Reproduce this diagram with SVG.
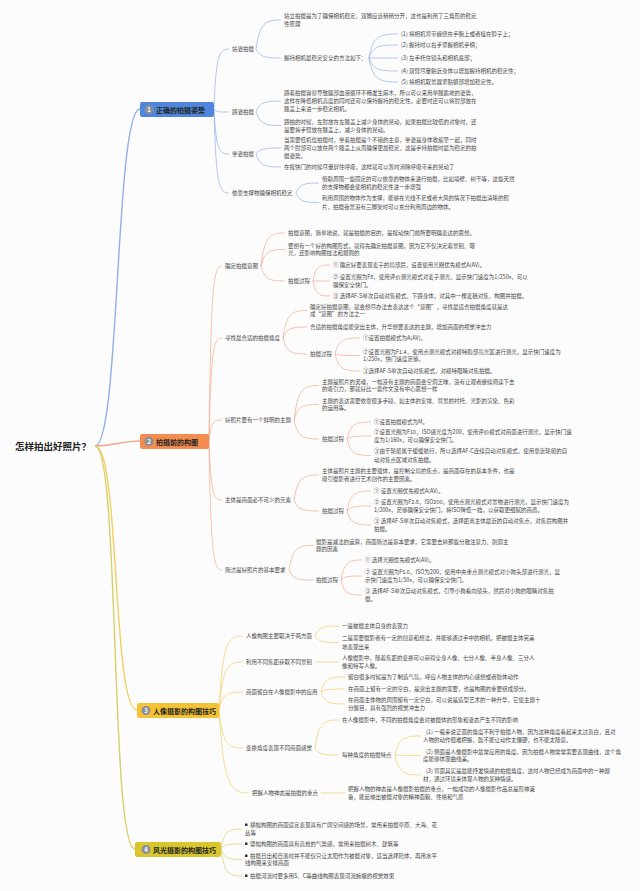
<svg xmlns="http://www.w3.org/2000/svg" width="640" height="891" viewBox="0 0 640 891">
<style>
text{font-family:"Noto Sans CJK SC","Noto Sans",sans-serif;dominant-baseline:central;fill:#454545}
.t{font-size:5.5px}
.root{font-size:9.5px;font-weight:bold;fill:#222}
.bl{font-size:7px;font-weight:bold;fill:#222}
.num{font-size:6px;fill:#fff;text-anchor:middle;font-weight:bold}
.c{fill:none;stroke-width:0.7}
.m{fill:none;stroke-width:1.4}
.s1{stroke:#8fb0e6}.s2{stroke:#f2a98e}.s3{stroke:#f1cf63}.s4{stroke:#d8cf6c}
</style>
<rect width="640" height="891" fill="#fcfcfc"/>
<g id="connectors">
<path class="m s1" d="M95 446C120 446 115 109 140 109"/>
<path class="m s2" d="M95 446C115 446 120 441 140 441"/>
<path class="m s3" d="M95 446C120 446 112 710 137 710"/>
<path class="m s4" d="M95 446C120 446 110 849 135 849"/>
<g class="c s1">
<path d="M214 109C216 55 219 49 229 49"/><path d="M214 109C216 112 219 112 229 112"/><path d="M214 109C216 150 219 154 229 154"/><path d="M214 109C216 185 219 193 229 193"/>
<path d="M256 49C260 23 265 20 281 20"/><path d="M256 49C260 57 265 58 281 58"/>
<path d="M369 58C373 36 379 34 398 34"/><path d="M369 58C373 46 379 45 398 45"/><path d="M369 58L398 58"/><path d="M369 58C373 70 379 71 398 71"/><path d="M369 58C373 80 379 82 398 82"/>
<path d="M256 112C260 102 265 101 281 101"/><path d="M256 112C260 124 265 125.5 281 125.5"/>
<path d="M256 154C260 148.6 265 148 281 148"/><path d="M256 154C260 166 265 167 281 167"/>
<path d="M296 193C299.5 184 304 183 319 183"/><path d="M296 193C299.5 201.6 304 202.5 319 202.5"/>
</g>
<g class="c s2">
<path d="M209 441C211 283.5 213.5 266 222 266"/><path d="M209 441C211 348 213.5 338 222 338"/><path d="M209 441C211 422 213.5 420 222 420"/><path d="M209 441C211 494 213.5 500 222 500"/><path d="M209 441C211 557 213.5 570 222 570"/>
<path d="M261 266C264.6 236.3 269.4 233 285 233"/><path d="M261 266C264.6 251.2 269.4 249.5 285 249.5"/><path d="M261 266C264.6 279.5 269.4 281 285 281"/>
<path d="M313 281C315.5 266.6 319 265 330 265"/><path d="M313 281L330 281"/><path d="M313 281C315.5 294.5 319 296 330 296"/>
<path d="M283 338C286.6 313.3 291.4 310.5 307 310.5"/><path d="M283 338C286.6 328.1 291.4 327 307 327"/><path d="M283 338C286.6 352.4 291.4 354 307 354"/>
<path d="M335 354C338.8 339.6 343.8 338 360 338"/><path d="M335 354C338.8 355.4 343.8 355.5 360 355.5"/><path d="M335 354C338.8 369.3 343.8 371 360 371"/>
<path d="M294 420C297.8 389 302.8 385.5 319 385.5"/><path d="M294 420C297.8 406 302.8 404.5 319 404.5"/><path d="M294 420C297.8 437.1 302.8 439 319 439"/>
<path d="M347 439C350.6 423.7 355.4 422 371 422"/><path d="M347 439C350.6 436.3 355.4 436 371 436"/><path d="M347 439C350.6 453.9 355.4 455.5 371 455.5"/>
<path d="M294 500C297.8 477.5 302.8 475 319 475"/><path d="M294 500C297.8 509.9 302.8 511 319 511"/>
<path d="M347 511C350.6 493 355.4 491 371 491"/><path d="M347 511C350.6 506.5 355.4 506 371 506"/><path d="M347 511C350.6 523.6 355.4 525 371 525"/>
<path d="M289 570C292.6 548 297.4 545.5 313 545.5"/><path d="M289 570C292.6 579 297.4 580 313 580"/>
<path d="M341 580C344.2 562 348.4 560 362 560"/><path d="M341 580C344.2 576.4 348.4 576 362 576"/><path d="M341 580C344.2 593.5 348.4 595 362 595"/>
</g>
<g class="c s3">
<path d="M219 710C222.6 643.4 227.4 636 243 636"/><path d="M219 710C222.6 666.8 227.4 662 243 662"/><path d="M219 710C222.6 693.8 227.4 692 243 692"/><path d="M219 710C222.6 744.2 227.4 748 243 748"/><path d="M219 710C223.5 784.7 230 793 249 793"/>
<path d="M315 636C318.6 627 323.4 626 339 626"/><path d="M315 636C318.6 641.9 323.4 642.5 339 642.5"/>
<path d="M315 662L339 662"/>
<path d="M321 692C324.6 678.5 329.4 677 345 677"/><path d="M321 692C324.6 689.3 329.4 689 345 689"/><path d="M321 692C324.6 702.8 329.4 704 345 704"/>
<path d="M315 748C318.6 722.8 323.4 720 339 720"/><path d="M315 748C318.6 754.3 323.4 755 339 755"/>
<path d="M395 755C398.9 737.9 404.1 736 421 736"/><path d="M395 755C398.9 755.5 404.1 755.5 421 755.5"/><path d="M395 755C398.9 773 404.1 775 421 775"/>
<path d="M321 793L345 793"/>
</g>
<g class="c s4">
<path d="M221 849C224.2 831 228.4 829 242 829"/><path d="M221 849C224.2 844.5 228.4 844 242 844"/><path d="M221 849C224.2 858.5 228.4 859.5 242 859.5"/><path d="M221 849C224.2 873.3 228.4 876 242 876"/>
</g>
</g>
<g id="root"><text class="root" x="15" y="446">怎样拍出好照片？</text></g>
<g id="b1"><rect x="140" y="102" width="74" height="15" rx="2" fill="#4f86dc"/><circle cx="149" cy="109.5" r="4.5" fill="#8a8f99"/><text class="num" x="149" y="109.5">1</text><text class="bl" x="156" y="109.5">正确的拍摄姿势</text></g>
<g id="b2"><rect x="140" y="434" width="69" height="15" rx="2" fill="#f28c50"/><circle cx="149" cy="441.5" r="4.5" fill="#8a8f99"/><text class="num" x="149" y="441.5">2</text><text class="bl" x="156" y="441.5">拍摄前的构图</text></g>
<g id="b3"><rect x="137" y="703" width="82" height="15" rx="2" fill="#f3c235"/><circle cx="146" cy="710.5" r="4.5" fill="#8a8f99"/><text class="num" x="146" y="710.5">3</text><text class="bl" x="153" y="710.5">人像摄影的构图技巧</text></g>
<g id="b4"><rect x="135" y="842" width="86" height="15" rx="2" fill="#d8c62c"/><circle cx="146" cy="849.5" r="4.5" fill="#8a8f99"/><text class="num" x="146" y="849.5">4</text><text class="bl" x="153" y="849.5">风光摄影的构图技巧</text></g>

<g id="n1-1"><text class="t" x="232" y="49">站姿拍摄</text></g>
<g id="n1-1a"><text class="t"><tspan x="284" y="16">站立拍摄是为了确保相机稳定，双脚应该稍稍分开，这也是利用了三角形的稳定</tspan><tspan x="284" y="24">性原理</tspan></text></g>
<g id="n1-1b"><text class="t" x="284" y="58">握持相机最稳定安全的方法如下：</text></g>
<g id="n1-1b1"><text class="t" x="401" y="34">(1)  将相机背带缠绕在手腕上或者挂在脖子上；</text></g>
<g id="n1-1b2"><text class="t" x="401" y="45">(2)  握持时以右手紧握相机手柄；</text></g>
<g id="n1-1b3"><text class="t" x="401" y="58">(3)  左手托住镜头和相机底部；</text></g>
<g id="n1-1b4"><text class="t" x="401" y="71">(4)  双臂尽量贴近身体以增加握持相机的稳定性；</text></g>
<g id="n1-1b5"><text class="t" x="401" y="82">(5)  将相机取景器紧贴额部增加稳定性。</text></g>
<g id="n1-2"><text class="t" x="232" y="112">蹲姿拍摄</text></g>
<g id="n1-2a"><text class="t"><tspan x="284" y="93">蹲着拍摄容易导致腿部血液循环不畅发生麻木，所以可以采用单膝跪地的姿势，</tspan><tspan x="284" y="101">这样在降低相机高度的同时还可以保持握持的稳定性。必要时还可以将肘部放在</tspan><tspan x="284" y="109">膝盖上来进一步稳定相机。</tspan></text></g>
<g id="n1-2b"><text class="t"><tspan x="284" y="122">蹲拍的时候，左肘放在左膝盖上减少身体的晃动，如果拍摄比较低的对象时，还</tspan><tspan x="284" y="129.5">是要将手臂放在膝盖上，减少身体的晃动。</tspan></text></g>
<g id="n1-3"><text class="t" x="232" y="154">坐姿拍摄</text></g>
<g id="n1-3a"><text class="t"><tspan x="284" y="140">当需要低机位拍摄时，坐着拍摄是个不错的主意，坐姿是身体收缩至一起，同时</tspan><tspan x="284" y="148">两个肘部可以放在两个膝盖上从而确保更加稳定，这是手持拍摄时最为稳定的拍</tspan><tspan x="284" y="156">摄姿势。</tspan></text></g>
<g id="n1-3b"><text class="t" x="284" y="167">在按快门的时候尽量屏住呼吸，这样就可以暂时消除呼吸带来的晃动了</text></g>
<g id="n1-4"><text class="t" x="232" y="193">依靠支撑物确保相机稳定</text></g>
<g id="n1-4a"><text class="t"><tspan x="322" y="179">借助周围一些固定的可以依靠的物体来进行拍摄，比如墙壁、树干等，这些天然</tspan><tspan x="322" y="187">的支撑物都会使相机的稳定性进一步增强</tspan></text></g>
<g id="n1-4b"><text class="t"><tspan x="322" y="198">利用周围的物体作为支撑，能够在光线不足或者大风的情况下拍摄出清晰的照</tspan><tspan x="322" y="207">片，拍摄夜景没有三脚架时可以充分利用周边的物体。</tspan></text></g>

<g id="n2-1"><text class="t" x="225" y="266">确定拍摄意图</text></g>
<g id="n2-1a"><text class="t" x="288" y="233">拍摄意图，简单地说，就是拍摄的目的，是按动快门前所要明确表达的思想。</text></g>
<g id="n2-1b"><text class="t"><tspan x="288" y="246">要想有一个好的构图形式，就得先确定拍摄意图，因为它不仅决定着景别、曝</tspan><tspan x="288" y="253">光，还影响构图技法和规则的</tspan></text></g>
<g id="n2-1c"><text class="t" x="288" y="281">拍摄过程</text></g>
<g id="n2-1c1"><text class="t" x="333" y="265">① 确定好要表现麦子的局部后，设置使用光圈优先模式A(AV)。</text></g>
<g id="n2-1c2"><text class="t"><tspan x="333" y="277">② 设置光圈为F8，使用评价测光模式对麦子测光，显示快门速度为1/250s，可以</tspan><tspan x="333" y="285">确保安全快门。</tspan></text></g>
<g id="n2-1c3"><text class="t" x="333" y="296">③ 选择AF-S单次自动对焦模式，下蹲身体，对其中一棵麦穗对焦，构图并拍摄。</text></g>
<g id="n2-2"><text class="t" x="225" y="338">寻找最合适的拍摄角度</text></g>
<g id="n2-2a"><text class="t"><tspan x="310" y="307">确定好拍摄意图，就会想尽办法去表达这个“意图”，寻找最适合拍摄角度就是达</tspan><tspan x="310" y="314">成“意图”的方法之一</tspan></text></g>
<g id="n2-2b"><text class="t" x="310" y="327">合适的拍摄角度能突出主体，升华想要表达的主题，增加画面的视觉冲击力</text></g>
<g id="n2-2c"><text class="t" x="310" y="354">拍摄过程</text></g>
<g id="n2-2c1"><text class="t" x="363" y="338">①设置拍摄模式为A(AV)。</text></g>
<g id="n2-2c2"><text class="t"><tspan x="363" y="352">②设置光圈为F1.4，使用点测光模式对模特脸部亮光区进行测光，显示快门速度为</tspan><tspan x="363" y="359">1/250s，快门速度足够。</tspan></text></g>
<g id="n2-2c3"><text class="t" x="363" y="371">③选择AF-S单次自动对焦模式，对模特眼睛对焦拍摄。</text></g>
<g id="n2-3"><text class="t" x="225" y="420">好照片要有一个鲜明的主题</text></g>
<g id="n2-3a"><text class="t"><tspan x="322" y="382">主题是照片的灵魂，一幅没有主题的画面会空洞乏味，没有让观者继续阅读下去</tspan><tspan x="322" y="389">的吸引力，那就好比一篇作文没有中心思想一样</tspan></text></g>
<g id="n2-3b"><text class="t"><tspan x="322" y="401">主题的表达需要依靠很多手段，如主体的安排、背景的衬托、光影的渲染、色彩</tspan><tspan x="322" y="408">的运用等。</tspan></text></g>
<g id="n2-3c"><text class="t" x="322" y="439">拍摄过程</text></g>
<g id="n2-3c1"><text class="t" x="374" y="422">①设置拍摄模式为M。</text></g>
<g id="n2-3c2"><text class="t"><tspan x="374" y="432">②设置光圈为F10，ISO感光度为200，使用评价模式对画面进行测光，显示快门速</tspan><tspan x="374" y="440">度为1/160s，可以确保安全快门。</tspan></text></g>
<g id="n2-3c3"><text class="t"><tspan x="374" y="451">③由于轮船属于缓缓航行，所以选择AF-C连续自动对焦模式，使用靠近轮船的自</tspan><tspan x="374" y="460">动对焦点区域对焦拍摄。</tspan></text></g>
<g id="n2-4"><text class="t" x="225" y="500">主体是画面必不可少的元素</text></g>
<g id="n2-4a"><text class="t"><tspan x="322" y="471">主体是照片主题的主要载体，是控制全局的焦点，是画面存在的基本条件，也是</tspan><tspan x="322" y="479">吸引摄影者进行艺术创作的主要因素。</tspan></text></g>
<g id="n2-4b"><text class="t" x="322" y="511">拍摄过程</text></g>
<g id="n2-4b1"><text class="t" x="374" y="491">① 设置光圈优先模式A(AV)。</text></g>
<g id="n2-4b2"><text class="t"><tspan x="374" y="502">② 设置光圈为F2.8，ISO200，使用点测光模式对景物进行测光，显示快门速度为</tspan><tspan x="374" y="510">1/200s，足够确保安全快门，将ISO降低一挡，以获取更细腻的画质。</tspan></text></g>
<g id="n2-4b3"><text class="t"><tspan x="374" y="521">③ 选择AF-S单次自动对焦模式，选择距离主体最近的自动对焦点，对焦后构图并</tspan><tspan x="374" y="529">拍摄。</tspan></text></g>
<g id="n2-5"><text class="t" x="225" y="570">简洁是好照片的基本要求</text></g>
<g id="n2-5a"><text class="t"><tspan x="316" y="542">摄影是减法的运算，画面简洁是基本要求，它需要去掉那些分散注意力、削弱主</tspan><tspan x="316" y="549">题的因素</tspan></text></g>
<g id="n2-5b"><text class="t" x="316" y="580">拍摄过程</text></g>
<g id="n2-5b1"><text class="t" x="365" y="560">① 选择光圈优先模式A(AV)。</text></g>
<g id="n2-5b2"><text class="t"><tspan x="365" y="572">② 设置光圈为F5.6，ISO为200，使用中央重点测光模式对小狗头部进行测光，显</tspan><tspan x="365" y="580">示快门速度为1/50s，可以确保安全快门。</tspan></text></g>
<g id="n2-5b3"><text class="t"><tspan x="365" y="591">③ 选择AF-S单次自动对焦模式，引导小狗看向镜头，然后对小狗的眼睛对焦拍</tspan><tspan x="365" y="599">摄。</tspan></text></g>

<g id="n3-1"><text class="t" x="246" y="636">人像构图主要取决于两方面</text></g>
<g id="n3-1a"><text class="t" x="342" y="626">一是被摄主体自身的表现力</text></g>
<g id="n3-1b"><text class="t"><tspan x="342" y="638">二是需要摄影者有一定的创意和想法，并能够通过手中的相机，把被摄主体完美</tspan><tspan x="342" y="647">地表现出来</tspan></text></g>
<g id="n3-2"><text class="t" x="246" y="662">利用不同焦距获取不同景别</text></g>
<g id="n3-2a"><text class="t"><tspan x="342" y="658">人像摄影中，随着焦距的变换可以获得全身人像、七分人像、半身人像、三分人</tspan><tspan x="342" y="666">像和特写人像。</tspan></text></g>
<g id="n3-3"><text class="t" x="246" y="692">画面留白在人像摄影中的应用</text></g>
<g id="n3-3a"><text class="t" x="348" y="677">留白很多时候是为了制造气氛，呼应人物主体的内心感想或者肢体动作</text></g>
<g id="n3-3b"><text class="t" x="348" y="689">在画面上留有一定的空白，是突出主题的需要，也是构图的重要组成部分。</text></g>
<g id="n3-3c"><text class="t"><tspan x="348" y="700">在画面主体物的周围留有一定空白，可以说是造型艺术的一种升华，它使主题十</tspan><tspan x="348" y="708">分醒目，具有强烈的视觉冲击力</tspan></text></g>
<g id="n3-4"><text class="t" x="246" y="748">变换角度表现不同画面感觉</text></g>
<g id="n3-4a"><text class="t" x="342" y="720">在人像摄影中，不同的拍摄角度会对被摄体的形象和姿态产生不同的影响</text></g>
<g id="n3-4b"><text class="t" x="342" y="755">每种角度的拍摄特点</text></g>
<g id="n3-4b1"><text class="t"><tspan x="426" y="732">(1)  一般来说正面的角度不利于拍摄人物，因为这种角度看起来太过直白，且对</tspan><tspan x="423" y="740">人物的动作很难把握，既不能让动作太僵硬，也不能太随意。</tspan></text></g>
<g id="n3-4b2"><text class="t"><tspan x="426" y="752">(2)  侧面是人像摄影中最常应用的角度，因为拍摄人物常常需要表现曲线，这个角</tspan><tspan x="423" y="759">度能够体现曲线美。</tspan></text></g>
<g id="n3-4b3"><text class="t"><tspan x="426" y="771">(3)  背面其实是最能抒发情感的拍摄角度，这时人物已经成为画面中的一种题</tspan><tspan x="423" y="779">材，通过环境来体现人物的某种情感。</tspan></text></g>
<g id="n3-5"><text class="t" x="252" y="793">把握人物神态是拍摄的重点</text></g>
<g id="n3-5a"><text class="t"><tspan x="348" y="789">把握人物的神态是人像摄影拍摄的重点，一幅成功的人像摄影作品总是形神兼</tspan><tspan x="348" y="797">备，能反映出被摄对象的精神面貌、性格和气质</tspan></text></g>

<g id="n4-1"><rect x="245" y="823.5" width="2.5" height="2.5" fill="#333"/><text class="t"><tspan x="250" y="825">横幅构图的画面适宜表现具有广阔空间感的场景，常用来拍摄草原、大海、花</tspan><tspan x="245" y="833">丛等</tspan></text></g>
<g id="n4-2"><rect x="245" y="842.5" width="2.5" height="2.5" fill="#333"/><text class="t" x="250" y="844">竖幅构图的画面具有高耸的气势感，常用来拍摄树木、建筑等</text></g>
<g id="n4-3"><rect x="245" y="854.5" width="2.5" height="2.5" fill="#333"/><text class="t"><tspan x="250" y="856">拍摄日出和日落时并不能仅只让太阳作为被摄对象，适当选择陪体，再用水平</tspan><tspan x="245" y="863">线构图来安排画面</tspan></text></g>
<g id="n4-4"><rect x="245" y="874.5" width="2.5" height="2.5" fill="#333"/><text class="t" x="250" y="876">拍摄河流时要多用S、C等曲线构图表现河流蜿蜒的视觉效果</text></g>
</svg>
